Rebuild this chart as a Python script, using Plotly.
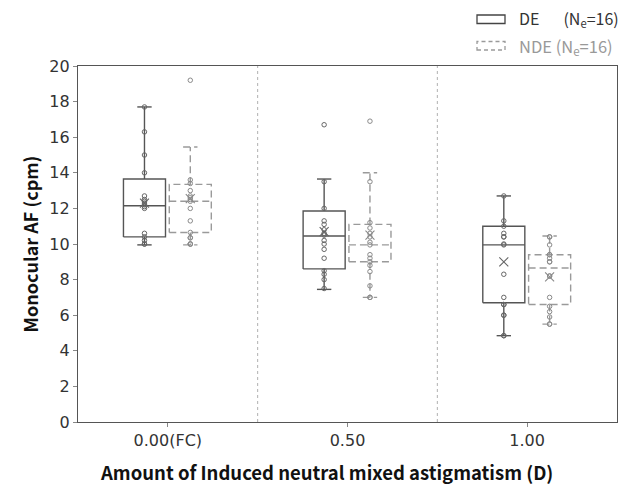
import plotly.graph_objects as go

categories = ["0.00(FC)", "0.50", "1.00"]

# DE (dominant eye) box statistics
de_q1 = [10.4, 8.6, 6.7]
de_med = [12.15, 10.45, 9.95]
de_q3 = [13.65, 11.85, 11.0]
de_lo = [9.95, 7.45, 4.85]
de_hi = [17.7, 13.65, 12.7]
de_mean = [12.3, 10.7, 9.0]
de_points = [
    [17.7, 16.3, 15.0, 14.0, 12.7, 12.5, 12.4, 12.3, 12.2, 12.1, 12.0, 10.6, 10.4, 10.2, 10.0, 10.0],
    [16.7, 13.5, 12.0, 11.3, 11.1, 10.8, 10.6, 10.5, 10.2, 10.0, 9.7, 9.2, 8.5, 8.3, 8.0, 7.5],
    [12.7, 11.3, 11.0, 10.6, 10.4, 10.4, 10.0, 9.95, 8.3, 7.0, 6.6, 6.6, 6.0, 6.0, 4.85, 4.85],
]

# NDE (non-dominant eye) box statistics
nde_q1 = [10.65, 9.0, 6.6]
nde_med = [12.4, 9.95, 8.65]
nde_q3 = [13.35, 11.1, 9.4]
nde_lo = [9.95, 7.0, 5.5]
nde_hi = [15.45, 14.0, 10.45]
nde_mean = [12.55, 10.5, 8.15]
nde_points = [
    [19.2, 13.6, 13.4, 13.0, 12.7, 12.6, 12.5, 12.4, 12.0, 11.3, 10.65, 10.35, 10.35, 10.0, 10.0, 10.0],
    [16.9, 13.5, 11.2, 10.9, 10.6, 10.4, 10.1, 9.95, 9.4, 9.2, 9.0, 8.8, 8.45, 7.65, 7.0, 7.0],
    [10.4, 9.95, 9.4, 9.2, 9.0, 8.2, 8.2, 7.0, 6.5, 6.2, 5.9, 5.5, 5.5, 9.4, 9.0, 10.4],
]

x_title = "Amount of Induced neutral mixed astigmatism (D)"
y_title = "Monocular AF (cpm)"

series = [
    dict(name="DE", q1=de_q1, med=de_med, q3=de_q3, lo=de_lo, hi=de_hi, mean=de_mean,
         pts=de_points, off=-0.13, color="#555555", ptcolor="#666666", dash="solid"),
    dict(name="NDE", q1=nde_q1, med=nde_med, q3=nde_q3, lo=nde_lo, hi=nde_hi, mean=nde_mean,
         pts=nde_points, off=0.125, color="#9a9a9a", ptcolor="#8a8a8a", dash="7px,4px"),
]

half_w = 0.117
cap_w = 0.04

fig = go.Figure()
for s in series:
    xs, ys = [], []
    for i in range(len(categories)):
        c = i + s["off"]
        l, r = c - half_w, c + half_w
        xs += [l, r, r, l, l, None]
        ys += [s["q1"][i], s["q1"][i], s["q3"][i], s["q3"][i], s["q1"][i], None]
        xs += [l, r, None]
        ys += [s["med"][i], s["med"][i], None]
        xs += [c, c, None, c, c, None]
        ys += [s["q3"][i], s["hi"][i], None, s["q1"][i], s["lo"][i], None]
        xs += [c - cap_w, c + cap_w, None, c - cap_w, c + cap_w, None]
        ys += [s["hi"][i], s["hi"][i], None, s["lo"][i], s["lo"][i], None]
    fig.add_trace(go.Scatter(x=xs, y=ys, mode="lines", showlegend=False, hoverinfo="skip",
                             line=dict(color=s["color"], width=1.4, dash=s["dash"])))
    px, py = [], []
    for i in range(len(categories)):
        px += [i + s["off"]] * len(s["pts"][i])
        py += s["pts"][i]
    fig.add_trace(go.Scatter(x=px, y=py, mode="markers", showlegend=False,
                             marker=dict(symbol="circle-open", size=4.5, color=s["ptcolor"],
                                         line=dict(width=1, color=s["ptcolor"]))))
    fig.add_trace(go.Scatter(x=[i + s["off"] for i in range(len(categories))], y=s["mean"],
                             mode="markers", showlegend=False,
                             marker=dict(symbol="x-thin-open", size=9, color=s["ptcolor"],
                                         line=dict(width=1.1, color=s["ptcolor"]))))

# category separators
for xb in [0.5, 1.5]:
    fig.add_shape(type="line", x0=xb, x1=xb, y0=0, y1=20, xref="x", yref="y",
                  line=dict(color="#b0b0b0", width=1, dash="dot"), layer="below")

# pixel -> paper conversion helpers for the custom legend / title
L, W, T, H = 78, 539, 66, 356
def px2x(p):
    return (p - L) / W
def py2y(p):
    return 1 + (T - p) / H

fig.add_shape(type="rect", xref="paper", yref="paper", x0=px2x(477), x1=px2x(505),
              y0=py2y(23.5), y1=py2y(15), line=dict(color="#444444", width=1.3))
fig.add_shape(type="rect", xref="paper", yref="paper", x0=px2x(477), x1=px2x(505),
              y0=py2y(50), y1=py2y(41.5), line=dict(color="#9a9a9a", width=1.3, dash="4px,3px"))
fig.add_annotation(xref="paper", yref="paper", x=px2x(517), y=py2y(19),
                   xanchor="left", yanchor="middle", showarrow=False,
                   text="DE\u2003\u2002(N<sub>e</sub>=16)",
                   font=dict(family="Noto Sans CJK KR, Liberation Sans", size=16, color="#333333"))
fig.add_annotation(xref="paper", yref="paper", x=px2x(517), y=py2y(46),
                   xanchor="left", yanchor="middle", showarrow=False,
                   text="NDE (N<sub>e</sub>=16)",
                   font=dict(family="Noto Sans CJK KR, Liberation Sans", size=16.5, color="#999999"))

# x-axis title (sits slightly left of plot centre in the reference)
fig.add_annotation(xref="paper", yref="paper", x=px2x(326), y=py2y(472),
                   xanchor="center", yanchor="middle", showarrow=False,
                   text="<b>" + x_title + "</b>",
                   font=dict(family="Noto Sans CJK KR, Open Sans", size=18.5, color="#111111"))

fig.update_layout(
    width=632, height=486,
    margin=dict(l=78, r=15, t=66, b=64),
    paper_bgcolor="white", plot_bgcolor="white",
    font=dict(family="DejaVu Sans", size=16, color="#333333"),
    xaxis=dict(range=[-0.5, 2.5], tickmode="array", tickvals=[0, 1, 2], ticktext=categories,
               ticks="outside", ticklen=4, tickcolor="#888888", showgrid=False, zeroline=False,
               showline=True, linecolor="#555555", linewidth=1.2, mirror=True, automargin=False,
               tickfont=dict(family="DejaVu Sans", size=16, color="#333333")),
    yaxis=dict(range=[0, 20], dtick=2, ticks="outside", ticklen=4, tickcolor="#888888",
               showgrid=False, zeroline=False, showline=True, linecolor="#555555", linewidth=1.2,
               mirror=True, automargin=False,
               tickfont=dict(family="DejaVu Sans", size=16, color="#333333"),
               title=dict(text="<b>" + y_title + "</b>",
                          font=dict(family="Noto Sans CJK KR, Open Sans", size=18, color="#111111"),
                          standoff=6)),
)

fig.write_html("out.html")
